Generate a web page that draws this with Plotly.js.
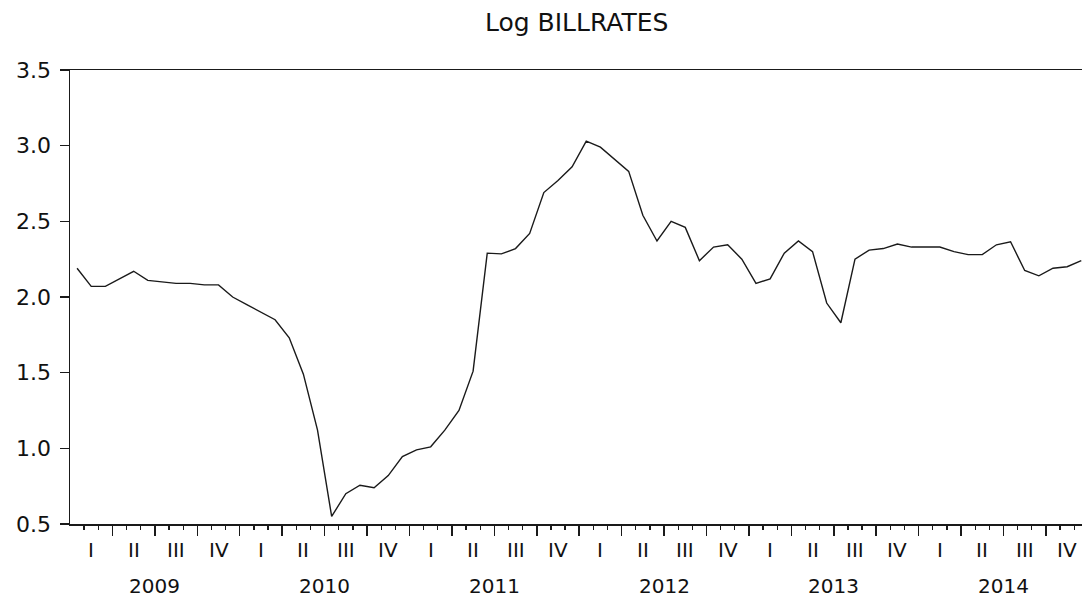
<!DOCTYPE html>
<html>
<head>
<meta charset="utf-8">
<script src="https://cdn.plot.ly/plotly-3.0.1.min.js"></script>
<style>html,body{margin:0;padding:0;background:#fff;}#chart{width:1082px;height:601px;}</style>
</head>
<body>
<div id="chart"></div>
<script>
// Monthly observations, Jan 2009 .. Dec 2014
const years = ["2009", "2010", "2011", "2012", "2013", "2014"];
const quarterLabels = ["I", "II", "III", "IV"];
const logBillRates = [
  2.19, 2.07, 2.07, 2.12, 2.17, 2.11, 2.10, 2.09, 2.09, 2.08, 2.08, 2.00,
  1.95, 1.90, 1.85, 1.73, 1.49, 1.12, 0.55, 0.70, 0.756, 0.74, 0.82, 0.945,
  0.99, 1.01, 1.12, 1.25, 1.51, 2.29, 2.285, 2.32, 2.42, 2.69, 2.77, 2.86,
  3.03, 2.99, 2.91, 2.83, 2.54, 2.37, 2.50, 2.46, 2.24, 2.33, 2.345, 2.25,
  2.09, 2.12, 2.29, 2.37, 2.30, 1.96, 1.83, 2.25, 2.31, 2.32, 2.35, 2.33,
  2.33, 2.33, 2.30, 2.28, 2.28, 2.345, 2.365, 2.175, 2.14, 2.19, 2.20, 2.24
];

const n = logBillRates.length;
const idx = logBillRates.map((_, i) => i);
const monthBounds = [];
const quarterBounds = [];
for (let i = 0; i < n; i++) {
  if (i % 3 === 2) quarterBounds.push(i + 0.5);
  else monthBounds.push(i + 0.5);
}
const quarterCenters = [];
const quarterText = [];
for (let q = 0; q < n / 3; q++) {
  quarterCenters.push(q * 3 + 1);
  quarterText.push(quarterLabels[q % 4]);
}
const yearCenters = years.map((_, k) => k * 12 + 5.5);

const xr = [-0.5, 71.05];
const fontFam = "DejaVu Sans, Arial, sans-serif";
const qFont = {family: fontFam, size: 20, color: "#111"};
const yFont = {family: fontFam, size: 20, color: "#111"};

const data = [{
  x: idx, y: logBillRates, type: "scatter", mode: "lines",
  line: {color: "#1a1a1a", width: 1.4}, hoverinfo: "y", showlegend: false
}];

const annotations = [];
quarterCenters.forEach((c, k) => annotations.push({
  x: c, xref: "x", y: -0.057, yref: "paper", yanchor: "middle", xanchor: "center",
  text: quarterText[k], showarrow: false, font: qFont, borderpad: 0
}));
yearCenters.forEach((c, k) => annotations.push({
  x: c, xref: "x", y: -0.137, yref: "paper", yanchor: "middle", xanchor: "center",
  text: years[k], showarrow: false, font: yFont, borderpad: 0
}));

const layout = {
  width: 1082, height: 601,
  margin: {l: 70, r: 0, t: 70, b: 77},
  paper_bgcolor: "#fff", plot_bgcolor: "#fff",
  font: {family: fontFam, color: "#111"},
  title: {text: "Log BILLRATES", x: 0.533, xanchor: "center", y: 0.963, yanchor: "middle",
          font: {family: fontFam, size: 25, color: "#111"}},
  annotations: annotations,
  xaxis: {
    range: xr, showgrid: false, zeroline: false,
    showline: true, linecolor: "#1a1a1a", linewidth: 1.5, mirror: true,
    tickmode: "array", tickvals: quarterBounds, showticklabels: false,
    ticks: "outside", ticklen: 10, tickwidth: 1.5, tickcolor: "#1a1a1a",
    minor: {tickmode: "array", tickvals: monthBounds, ticks: "outside", ticklen: 4, tickwidth: 1.3, tickcolor: "#1a1a1a", showgrid: false}
  },
  yaxis: {
    range: [0.5, 3.5], tickmode: "array", tickvals: [0.5, 1.0, 1.5, 2.0, 2.5, 3.0, 3.5],
    tickformat: ".1f", showgrid: false, zeroline: false,
    showline: true, linecolor: "#1a1a1a", linewidth: 1.5,
    ticks: "outside", ticklen: 9, tickwidth: 1.3, tickcolor: "#1a1a1a",
    ticklabelstandoff: 4,
    tickfont: {family: fontFam, size: 22, color: "#111"}
  }
};

Plotly.newPlot("chart", data, layout, {displayModeBar: false, staticPlot: true});
</script>
</body>
</html>
